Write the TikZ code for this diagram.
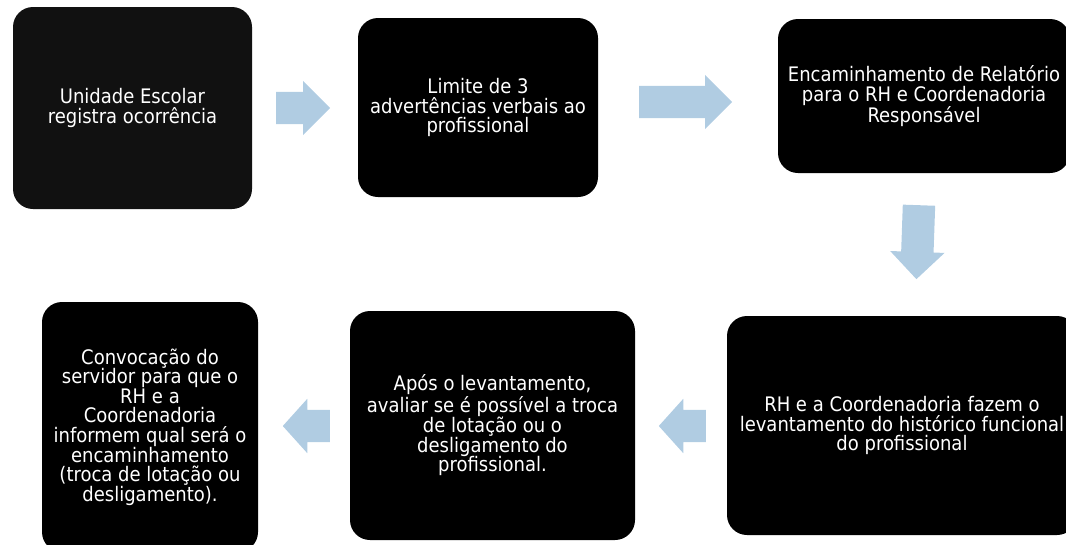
\documentclass[tikz,border=0pt]{standalone}
\usepackage{fontspec}
\setmainfont{DejaVu Sans Condensed}
\usetikzlibrary{shapes.arrows,calc}
\definecolor{arrowblue}{RGB}{176,204,226}
\definecolor{boxblack}{RGB}{17,17,17}
\tikzset{
  stepbox/.style={fill=black, rounded corners=20pt, text=white, align=center,
    inner sep=0pt, font=\fontsize{20}{19.6}\selectfont},
  blockarrow/.style={single arrow, fill=arrowblue, draw=none, inner xsep=0pt, inner ysep=16pt,
    single arrow head extend=11pt, single arrow tip angle=90, anchor=tail},
}
\begin{document}
\begin{tikzpicture}[x=1pt,y=-1pt]
    \useasboundingbox (0,0) rectangle (1066,544);
    %% top row
    \node[stepbox, fill=boxblack, minimum width=239pt, minimum height=202pt] (registro) at (132.5,108)
        {Unidade Escolar\\registra ocorrência};
    \node[stepbox, minimum width=240pt, minimum height=179pt] (limite) at (478,107.5)
        {Limite de 3\\advertências verbais ao\\profissional};
    \node[stepbox, minimum width=292pt, minimum height=154pt] (relatorio) at (924,96)
        {Encaminhamento de Relatório\\para o RH e Coordenadoria\\Responsável};
    %% bottom row
    \node[stepbox, minimum width=350pt, minimum height=219pt] (historico) at (902,425.5)
        {RH e a Coordenadoria fazem o\\levantamento do histórico funcional\\do profissional};
    \node[stepbox, minimum width=285pt, minimum height=229pt] (avaliar) at (492.5,425.5)
        {Após o levantamento,\\avaliar se é possível a troca\\de lotação ou o\\desligamento do\\profissional.};
    \node[stepbox, minimum width=216pt, minimum height=250pt] (convoca) at (150,427)
        {Convocação do\\servidor para que o\\RH e a\\Coordenadoria\\informem qual será o\\encaminhamento\\(troca de lotação ou\\desligamento).};
    %% block arrows (placed by their tails)
    \node[blockarrow, minimum height=54pt] (seta1) at (276,108) {};
    \node[blockarrow, minimum height=93pt] (seta2) at (639,102) {};
    \node[blockarrow, minimum height=74pt, rotate=-92] (seta3) at (919,205) {};
    \node[blockarrow, minimum height=47pt, rotate=180, single arrow tip angle=96] (seta4) at (706,426) {};
    \node[blockarrow, minimum height=47pt, rotate=180, single arrow tip angle=96] (seta5) at (330,426) {};
\end{tikzpicture}
\end{document}
